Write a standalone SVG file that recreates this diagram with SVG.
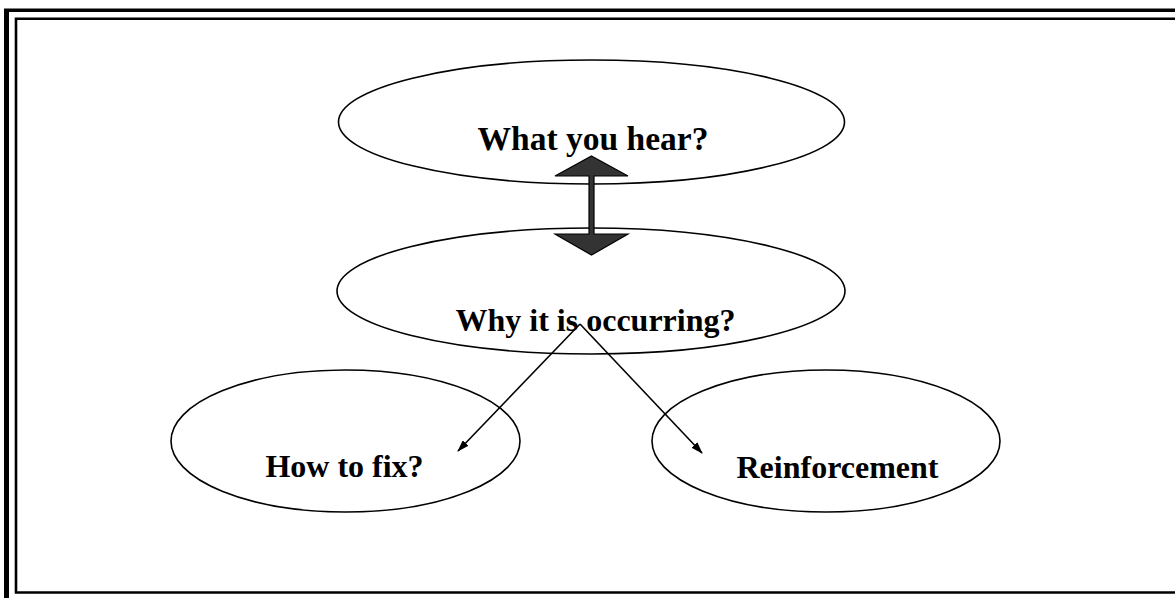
<svg xmlns="http://www.w3.org/2000/svg" width="1175" height="598" viewBox="0 0 1175 598">
<style>
.node ellipse{fill:none;stroke:#000;stroke-width:1.6}
.node text{font-family:"Liberation Serif","Times New Roman",serif;font-weight:bold;font-size:32px;fill:#000;text-anchor:middle}
.thin{stroke:#000;stroke-width:1.6;fill:none;marker-end:url(#ah)}
</style>
<defs>
<marker id="ah" viewBox="0 0 12 8" refX="11" refY="4" markerWidth="12" markerHeight="8" markerUnits="userSpaceOnUse" orient="auto">
<path d="M0,0 L12,4 L0,8 Z" fill="#000"/>
</marker>
</defs>
<rect x="0" y="0" width="1175" height="598" fill="#fff"/>
<g id="frame">
<rect x="4" y="9" width="5" height="589" fill="#000"/>
<rect x="4" y="8.5" width="1171" height="3.5" fill="#000"/>
<path d="M1175,18.8 H16 V592.5 H1175" fill="none" stroke="#000" stroke-width="2.6"/>
</g>
<g id="node-hear" class="node">
<ellipse cx="591.5" cy="122" rx="253" ry="62"/>
<text x="593" y="150" style="font-size:33.5px">What you hear?</text>
</g>
<g id="node-why" class="node">
<ellipse cx="591" cy="291" rx="254" ry="63"/>
<text x="595.5" y="331">Why it is occurring?</text>
</g>
<g id="node-fix" class="node">
<ellipse cx="345.5" cy="441" rx="174.5" ry="71"/>
<text x="344.5" y="477">How to fix?</text>
</g>
<g id="node-reinf" class="node">
<ellipse cx="826" cy="441" rx="174" ry="71"/>
<text x="837.5" y="478">Reinforcement</text>
</g>
<g id="connectors">
<polygon points="591.5,156 628,176 594,176 594,234 628,234 591.5,255 555,234 589,234 589,176 555,176" fill="#333" stroke="#000" stroke-width="1.2" stroke-linejoin="miter"/>
<path class="thin" d="M580,324 L458,451"/>
<path class="thin" d="M580,324 L702,453"/>
</g>
</svg>
